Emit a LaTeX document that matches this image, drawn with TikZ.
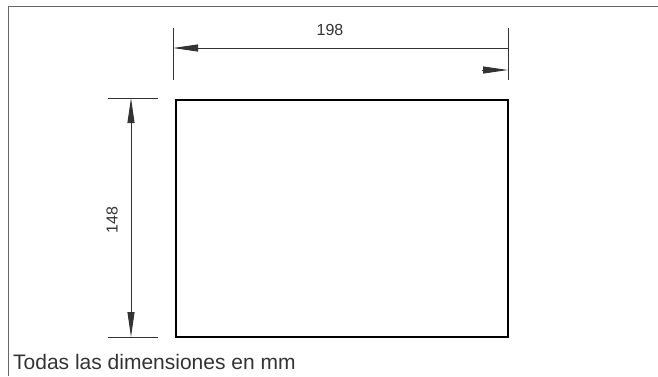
\documentclass[tikz,border=0pt]{standalone}
\usepackage{fontspec}
\setmainfont{Liberation Sans}
\usetikzlibrary{arrows.meta}
\definecolor{ink}{rgb}{.2,.2,.2}
\definecolor{framegray}{rgb}{.4,.4,.4}

\begin{document}
\begin{tikzpicture}[
    x=1pt, y=-1pt,
    every node/.style={font=\fontsize{16}{18}\selectfont, text=ink, inner sep=0pt},
    dimline/.style={draw=ink, line width=0.9pt},
    dimtip/.style={-{Triangle[length=25pt,width=7pt]}},
    extline/.style={draw=ink, line width=0.9pt}
  ]
    \useasboundingbox (0,0) rectangle (658,376);

    % Frame
    \draw[framegray, line width=1.6pt] (8.5,376) -- (8.5,6.5) -- (658,6.5);

    % Panel
    \node[draw=black, line width=1.5pt, minimum width=332pt, minimum height=237pt,
          anchor=north west] (panel) at (175,99) {};

    % Width: extension lines
    \coordinate (wl1) at (173,28);
    \coordinate (wl2) at (173,80);
    \coordinate (wr1) at (508,28);
    \coordinate (wr2) at (508,80);
    \draw[extline] (wl1) -- (wl2);
    \draw[extline] (wr1) -- (wr2);

    % Width: dimension line and tips
    \coordinate (wa) at (508,48);
    \coordinate (wb) at (173,48);
    \coordinate (wc) at (482,70);
    \coordinate (wd) at (508,70);
    \draw[dimline, dimtip] (wa) -- (wb);
    \draw[dimline, dimtip] (wc) -- (wd);
    \node (wlabel) at (330,30) {198};

    % Height: extension lines
    \coordinate (ht1) at (108,98);
    \coordinate (ht2) at (158,98);
    \coordinate (hb1) at (108,337);
    \coordinate (hb2) at (158,337);
    \draw[extline] (ht1) -- (ht2);
    \draw[extline] (hb1) -- (hb2);

    % Height: dimension line
    \coordinate (ha) at (131,98);
    \coordinate (hb) at (131,337);
    \draw[dimline, {Triangle[length=25pt,width=7pt]}-{Triangle[length=25pt,width=7pt]}] (ha) -- (hb);
    \node[rotate=90] (hlabel) at (112,220) {148};

    % Note
    \node[anchor=base west, font=\fontsize{21}{23}\selectfont] (note) at (13,369) {Todas las dimensiones en mm};
  \end{tikzpicture}
\end{document}
